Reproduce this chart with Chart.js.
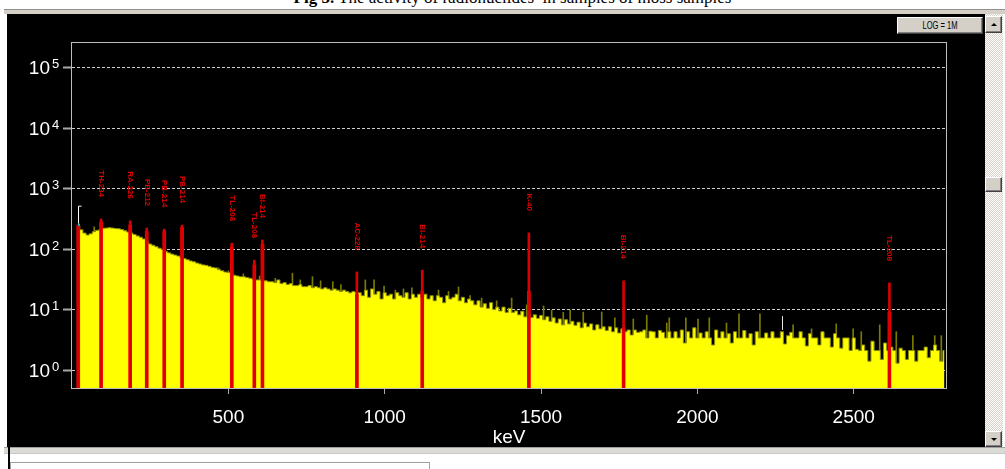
<!DOCTYPE html>
<html><head><meta charset="utf-8">
<script src="https://cdn.jsdelivr.net/npm/chart.js@4.4.1/dist/chart.umd.min.js"></script>
<style>
html,body{margin:0;padding:0;background:#fff;}
#page{position:relative;width:1005px;height:469px;overflow:hidden;background:#fff;font-family:'Liberation Sans',Arial,sans-serif;}
#title{position:absolute;top:-12px;left:10px;width:1005px;text-align:center;font:17px/20px 'Liberation Serif',serif;color:#000;white-space:pre;}
#frameTop{position:absolute;left:4px;top:9px;width:1001px;height:5px;background:#d4d0c8;border-top:1px solid #909090;box-sizing:border-box;}
#frameBot{position:absolute;left:4px;top:447px;width:1001px;height:7px;background:#dcdad5;border-top:1px solid #a0a0a0;border-bottom:1px solid #c8c8c8;box-sizing:border-box;}
#black{position:absolute;left:7px;top:14px;width:978px;height:433px;background:#000;}
#c{position:absolute;left:6px;top:14px;}
#scroll{position:absolute;left:985px;top:14px;width:18px;height:433px;background-color:#ebe9e4;background-image:repeating-conic-gradient(#ffffff 0 25%,#d4d0c8 0 50%);background-size:2px 2px;}
.btn{position:absolute;background:#d4d0c8;border:1px solid;border-color:#ffffff #404040 #404040 #ffffff;box-shadow:inset -1px -1px #808080;box-sizing:border-box;}
.up{width:0;height:0;border-left:3px solid transparent;border-right:3px solid transparent;border-bottom:3px solid #000;position:absolute;left:5px;top:6px;}
.down{width:0;height:0;border-left:3px solid transparent;border-right:3px solid transparent;border-top:3px solid #000;position:absolute;left:5px;top:6px;}
#logbtn{left:897px;top:17px;width:86px;height:17px;}
#logtxt{position:absolute;left:0;top:1px;width:100%;text-align:center;font:10.5px/13px 'Liberation Sans',sans-serif;color:#000;transform:scaleX(0.72);}
#leftline{position:absolute;left:8px;top:447px;width:2px;height:22px;background:#000;}
#box{position:absolute;left:10px;top:462px;width:420px;height:12px;border:1px solid #a0a0a0;box-sizing:border-box;background:#fff;}
</style></head>
<body><div id="page">
<div id="title"><b>Fig 5.</b> The activity of radionuclides  in samples of moss samples</div>
<div id="frameTop"></div>
<div id="black"></div>
<canvas id="c" width="979" height="433"></canvas>
<div id="scroll">
  <div class="btn" style="left:0;top:2px;width:17px;height:17px;"><div class="up"></div></div>
  <div class="btn" style="left:0;top:163px;width:17px;height:15px;"></div>
  <div class="btn" style="left:0;top:417px;width:17px;height:16px;"><div class="down"></div></div>
</div>
<div class="btn" id="logbtn"><div id="logtxt">LOG = 1M</div></div>
<div id="frameBot"></div>
<div id="leftline"></div>
<div id="box"></div>
</div>
<script>
// ---- data ----
const firstBinKeV = 20;
const binWidthKeV = 10;
const counts = [
  245,210,185,172,180,195,205,210,222,224,
  226,224,220,218,212,202,192,185,175,166,
  158,148,132,122,116,110,104,99,92,87,
  83,80,77,73,70,67,64,62,59,57,
  55,54,52,50,49,46,44,42,41,40,
  37,36,35,35,34,33,32,31,31,30,
  30,29,29,28,31,27,28,26,27,25,
  25,26,24,24,25,23,24,23,22,23,
  22,21,22,21,20,21,20,19,20,19,
  19,17,21,16,22,18,20,15,19,17,
  18,15,19,17,16,19,15,18,16,18,
  16,18,15,17,14,17,16,13,17,15,
  16,18,14,16,13,15,14,12,14,11,
  12.5,10.5,13,10,11,9.5,11,9,10.5,9,
  9.5,8.2,9.4,7.6,8.8,7.4,8.2,7.2,8,6.8,
  7.6,6.4,7.3,6,7,5.6,6.8,5.8,6.4,5.5,
  6.2,5,6,5.2,5.8,4.6,5.6,4.8,5.2,4.5,
  5.2,4.3,5,4.1,4.8,4.3,4.6,3.8,4.6,4.2,
  4.3,4.6,3.4,4.4,4.3,3.4,4.5,4.2,3.4,4.3,
  3.4,4.3,3.4,4.6,2.8,4.3,3.4,5.0,3.4,4.1,
  3.4,4.3,3.4,2.6,4.6,3.4,4.3,3.4,4.0,2.8,
  4.3,3.4,3.4,4.5,3.4,4.0,2.6,4.3,3.4,3.4,
  4.1,3.4,4.3,3.4,3.4,4.3,2.7,3.7,4.2,3.4,
  3.4,4.3,3.4,2.5,4.0,3.4,3.4,2.6,4.3,3.4,
  3.4,2.4,4.0,3.4,2.3,3.4,3.4,2.1,3.4,2.2,
  2.1,2.6,2.1,1.4,3.0,2.1,2.1,1.5,2.8,2.1,
  2.4,2.1,1.3,2.3,2.1,1.5,2.1,2.1,1.4,2.1,
  2.1,2.4,1.6,2.1,2.6,2.1,1.4,2.1
];
// single-channel noise spikes above the continuum (keV, counts)
const noiseKeV    = [71, 120, 469, 500, 548, 600, 650, 705, 730, 769, 795, 834, 860, 938, 966, 998, 1034, 1060, 1087, 1172, 1204, 1236, 1273, 1310, 1358, 1406, 1454, 1508, 1534, 1571, 1593, 1635, 1694, 1736, 1795, 1838, 1902, 1910, 1963, 2002, 2038, 2093, 2133, 2200, 2306, 2365, 2444, 2498, 2524, 2583, 2636, 2689, 2759, 2780];
const noiseCounts = [234, 228, 49, 44, 39, 36, 33, 40, 31, 35, 30, 29, 26, 31, 31, 24.5, 21, 22, 23, 21, 20, 23.7, 17, 15.5, 14, 15.5, 12, 11.5, 9.8, 9, 9.8, 9.1, 9.1, 7.3, 7, 8.1, 6, 7.3, 7.3, 7, 7.3, 6, 8.5, 8.5, 5.6, 4.8, 5.8, 4.8, 4.3, 5.6, 4.3, 3.7, 3.7, 3.7];
const peakKeV    = [20, 93, 186, 239, 295, 352, 511, 583, 609, 911, 1120, 1461, 1764, 2614];
const peakTop    = [251, 316, 295, 224, 215, 251, 126, 66, 142, 42, 45, 186, 30, 27.6];
const bandTop    = [251, 280, 250, 200, 200, 230, 110, 55, 120, 18, 20, 20, 5, 9];
const peakLabels = ['', 'TH-234', 'RA-226', 'PB-212', 'PB-214', 'PB-214', 'TL-208', 'TL-208', 'BI-214', 'AC-228', 'BI-214', 'K-40', 'BI-214', 'TL-208'];
const xTickValues = [500, 1000, 1500, 2000, 2500];
const yTickExponents = [0, 1, 2, 3, 4, 5];
const xAxisTitle = 'keV';
const cursorKeV = 20;
const marker2 = {keV: 2269, from: 4.6, to: 7.8};

const spectrum = counts.map((v, i) => ({x: firstBinKeV + i * binWidthKeV, y: v}));
const noise = noiseKeV.map((k, i) => ({x: k, y: noiseCounts[i]}));
const bands = peakKeV.map((k, i) => ({x: k, y: bandTop[i]}));
const spikes = peakKeV.map((k, i) => ({x: k, y: peakTop[i]}));

const overlay = {
  id: 'overlay',
  afterDatasetsDraw(chart) {
    const ctx = chart.ctx, xs = chart.scales.x, ys = chart.scales.y, ca = chart.chartArea;
    ctx.save();
    // frame
    ctx.strokeStyle = '#bdbdbd'; ctx.lineWidth = 1;
    ctx.strokeRect(Math.round(ca.left) - 0.5, Math.round(ca.top) - 0.5, Math.round(ca.right - ca.left) + 1, Math.round(ca.bottom - ca.top) + 1);
    // cursor bracket
    const cx = Math.round(xs.getPixelForValue(cursorKeV)) + 0.5;
    const cy = ys.getPixelForValue(counts[0]);
    ctx.strokeStyle = '#ffffff'; ctx.lineWidth = 1;
    ctx.beginPath(); ctx.moveTo(cx + 3, cy - 19.5); ctx.lineTo(cx, cy - 19.5); ctx.lineTo(cx, cy - 2); ctx.stroke();
    ctx.fillStyle = '#00c8c8'; ctx.fillRect(cx - 0.5, cy - 2, 2, 2);
    // second marker
    const mx = Math.round(xs.getPixelForValue(marker2.keV)) + 0.5;
    ctx.strokeStyle = '#e8e8e8';
    ctx.beginPath(); ctx.moveTo(mx, ys.getPixelForValue(marker2.to)); ctx.lineTo(mx, ys.getPixelForValue(marker2.from)); ctx.stroke();
    // peak labels
    ctx.fillStyle = '#e00000';
    ctx.font = 'bold 8px "Liberation Sans", Arial, sans-serif';
    peakKeV.forEach((k, i) => {
      if (!peakLabels[i]) return;
      const px = xs.getPixelForValue(k), py = ys.getPixelForValue(peakTop[i]);
      ctx.save();
      ctx.translate(px, py - 22);
      ctx.rotate(Math.PI / 2);
      ctx.textAlign = 'right'; ctx.textBaseline = 'middle';
      ctx.fillText(peakLabels[i], 0, 0);
      ctx.restore();
    });
    // y tick labels 10^n
    ctx.fillStyle = '#ffffff';
    yTickExponents.forEach(e => {
      const y = ys.getPixelForValue(Math.pow(10, e));
      ctx.font = '19px "Liberation Sans", Arial, sans-serif';
      ctx.textAlign = 'right'; ctx.textBaseline = 'alphabetic';
      ctx.fillText('10', 44, y + 6.5);
      ctx.font = '13px "Liberation Sans", Arial, sans-serif';
      ctx.textAlign = 'left';
      ctx.fillText(String(e), 46, y + 0.5);
    });
    // x tick labels
    ctx.font = '19px "Liberation Sans", Arial, sans-serif';
    ctx.textAlign = 'center'; ctx.textBaseline = 'alphabetic';
    xTickValues.forEach(v => {
      ctx.fillText(String(v), xs.getPixelForValue(v), ca.bottom + 35);
    });
    ctx.fillText(xAxisTitle, (ca.left + ca.right) / 2, ca.bottom + 55);
    ctx.restore();
  }
};

new Chart(document.getElementById('c'), {
  type: 'bar',
  data: {
    datasets: [
      {type: 'bar', data: noise, backgroundColor: '#7a7a00', barThickness: 1, grouped: false, order: 4},
      {type: 'line', data: spectrum, borderColor: '#8c8c00', borderWidth: 1, backgroundColor: '#ffff00',
       fill: 'start', stepped: 'middle', pointRadius: 0, order: 3},
      {type: 'bar', data: bands, backgroundColor: '#ff0000', barThickness: 3, grouped: false, order: 2},
      {type: 'bar', data: spikes, backgroundColor: '#d80000', barThickness: 2, grouped: false, order: 1}
    ]
  },
  options: {
    responsive: false, devicePixelRatio: 1, animation: false, events: [],
    layout: {padding: {left: 0, top: 29, right: 39, bottom: 0}},
    plugins: {legend: {display: false}, tooltip: {enabled: false}},
    scales: {
      x: {type: 'linear', min: 0, max: 2795, offset: false,
          afterBuildTicks: s => { s.ticks = xTickValues.map(v => ({value: v})); },
          afterFit: s => { s.height = 59; },
          grid: {drawOnChartArea: false, drawTicks: true, tickLength: 6, tickColor: '#a8a8a8', tickWidth: 1, offset: false},
          border: {display: false},
          ticks: {display: false}},
      y: {type: 'logarithmic', min: 0.504, max: 259000,
          afterBuildTicks: s => { s.ticks = yTickExponents.map(e => ({value: Math.pow(10, e)})); },
          afterFit: s => { s.width = 66; },
          grid: {color: '#d0d0d0', lineWidth: 1, drawTicks: true, tickLength: 9, tickColor: '#a8a8a8', tickWidth: 2, tickBorderDash: []},
          border: {display: false, dash: [3, 2]},
          ticks: {display: false}}
    }
  },
  plugins: [overlay]
});
</script>
</body></html>
